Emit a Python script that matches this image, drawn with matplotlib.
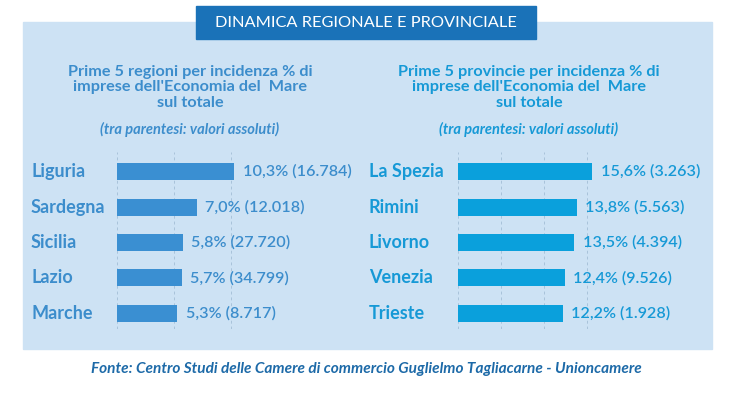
import matplotlib.pyplot as plt
from matplotlib.patches import Rectangle

# dati
regioni = ["Liguria", "Sardegna", "Sicilia", "Lazio", "Marche"]
regioni_pct = [10.3, 7.0, 5.8, 5.7, 5.3]
regioni_abs = ["16.784", "12.018", "27.720", "34.799", "8.717"]

province = ["La Spezia", "Rimini", "Livorno", "Venezia", "Trieste"]
province_pct = [15.6, 13.8, 13.5, 12.4, 12.2]
province_abs = ["3.263", "5.563", "4.394", "9.526", "1.928"]

titolo = "DINAMICA REGIONALE E PROVINCIALE"
sottotitolo_reg = "Prime 5 regioni per incidenza % di\nimprese dell'Economia del  Mare\nsul totale"
sottotitolo_prov = "Prime 5 provincie per incidenza % di\nimprese dell'Economia del  Mare\nsul totale"
nota = "(tra parentesi: valori assoluti)"
fonte = "Fonte: Centro Studi delle Camere di commercio Guglielmo Tagliacarne - Unioncamere"

W, H = 744, 398
PANEL = "#cde2f4"
BANNER = "#1a72b8"
LEFT_COL = "#3a8fd2"
RIGHT_COL = "#0aa0dc"
LEFT_TXT = "#3c8dcc"
RIGHT_TXT = "#1699d6"
GRID = "#a8c3da"

plt.rcParams["font.family"] = ["Lato", "DejaVu Sans"]

fig = plt.figure(figsize=(W / 100, H / 100), dpi=100)
fig.patch.set_facecolor("white")

# sfondo in coordinate pixel
base = fig.add_axes([0, 0, 1, 1])
base.set_xlim(0, W)
base.set_ylim(H, 0)
base.axis("off")
base.add_patch(Rectangle((23, 22), 689, 327, color=PANEL, zorder=0))
base.add_patch(Rectangle((196, 6), 340, 33, color=BANNER, zorder=1))
base.text(366, 23, titolo, color="white", fontsize=11.8, ha="center", va="center", zorder=2)

for cx, txt, col in [(190, sottotitolo_reg, LEFT_TXT), (529, sottotitolo_prov, RIGHT_TXT)]:
    base.text(cx, 87.5, txt, color=col, fontsize=11.7, fontweight="bold", ha="center",
              va="center", linespacing=1.16)
    base.text(cx, 129, nota, color=col, fontsize=10.5, fontweight="bold", style="italic",
              ha="center", va="center")

base.text(366, 369, fonte, color="#1d6aa8", fontsize=11.1, fontweight="bold",
          style="italic", ha="center", va="center")


def pannello(x0, px_per, xmax, ticks, nomi, pct, absval, col, txtcol, label_x):
    row = 35
    top_px = 171.7 - 0.55 * row
    h_px = 5.05 * row
    ax = fig.add_axes([x0 / W, (H - top_px - h_px) / H, xmax * px_per / W, h_px / H])
    ax.set_facecolor("none")
    y = list(range(len(nomi)))
    ax.barh(y, pct, height=0.48, color=col, zorder=3)
    ax.set_xlim(0, xmax)
    ax.set_ylim(len(nomi) - 0.55, -0.55)
    ax.set_xticks(ticks)
    ax.set_yticks([])
    ax.tick_params(axis="x", length=0, labelbottom=False)
    ax.grid(axis="x", color=GRID, linestyle=(0, (3, 3)), linewidth=0.7, zorder=0)
    for s in ax.spines.values():
        s.set_visible(False)
    for i in y:
        ax.text(pct[i] + 8.5 / px_per, i, f"{pct[i]:.1f}%".replace(".", ",") + f" ({absval[i]})",
                color=txtcol, fontsize=11.6, fontweight="semibold", va="center", ha="left",
                clip_on=False)
        ax.text(-(x0 - label_x) / px_per, i, nomi[i], color=txtcol, fontsize=13,
                fontweight="bold", va="center", ha="left", clip_on=False)
    return ax


pannello(117, 11.36, 11, [0, 5, 10], regioni, regioni_pct, regioni_abs, LEFT_COL, LEFT_TXT, 31)
pannello(457.7, 8.62, 16, [0, 5, 10, 15], province, province_pct, province_abs, RIGHT_COL, RIGHT_TXT, 369)

fig.savefig("out.png", dpi=100)
